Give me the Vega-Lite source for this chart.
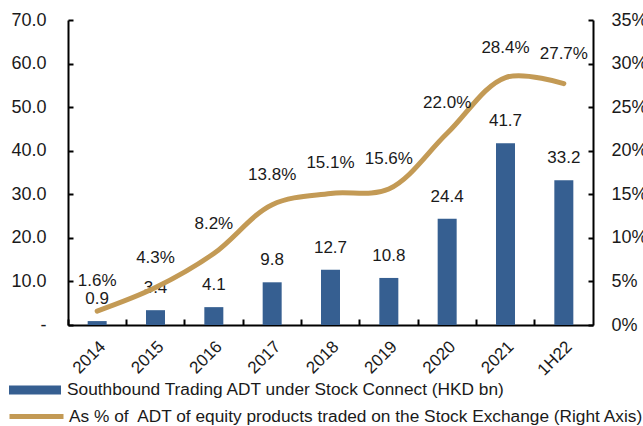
{
  "$schema": "https://vega.github.io/schema/vega-lite/v6.json",
  "width": 525,
  "height": 305,
  "autosize": {"type": "none"},
  "padding": {"left": 68, "top": 20, "right": 50, "bottom": 101},
  "config": {
    "view": {"stroke": null},
    "font": "Liberation Sans",
    "axis": {"grid": false, "domainColor": "#000000", "domainWidth": 2, "tickColor": "#000000", "tickWidth": 2, "labelColor": "#1a1a1a", "labelFont": "Liberation Sans", "labelFontSize": 18, "title": null},
    "legend": {"padding": 0, "labelFont": "Liberation Sans", "labelFontSize": 17.3, "labelColor": "#1a1a1a", "title": null, "labelLimit": 700}
  },
  "data": {
    "values": [
      {"year": "2014", "adt": 0.9, "pct": 0.016},
      {"year": "2015", "adt": 3.4, "pct": 0.043},
      {"year": "2016", "adt": 4.1, "pct": 0.082},
      {"year": "2017", "adt": 9.8, "pct": 0.138},
      {"year": "2018", "adt": 12.7, "pct": 0.151},
      {"year": "2019", "adt": 10.8, "pct": 0.156},
      {"year": "2020", "adt": 24.4, "pct": 0.220},
      {"year": "2021", "adt": 41.7, "pct": 0.284},
      {"year": "1H22", "adt": 33.2, "pct": 0.277}
    ]
  },
  "encoding": {
    "x": {
      "field": "year", "type": "ordinal", "sort": null,
      "scale": {"paddingInner": 0, "paddingOuter": 0},
      "axis": {"labelAngle": -45, "bandPosition": 0, "tickSize": -6, "labelPadding": 19, "labelFontSize": 17}
    }
  },
  "layer": [
    {
      "layer": [
        {
          "mark": {"type": "bar", "size": 19, "color": "#365F91"},
          "encoding": {
            "y": {"field": "adt", "type": "quantitative", "scale": {"domain": [0, 70]},
              "axis": {"orient": "left", "values": [0, 10, 20, 30, 40, 50, 60, 70], "labelExpr": "datum.value == 0 ? '-\u00a0\u00a0' : format(datum.value, '.1f')", "tickSize": -5, "labelPadding": 27}},
            "color": {"datum": "Southbound Trading ADT under Stock Connect (HKD bn)", "scale": {"range": ["#365F91"]},
              "legend": {"orient": "none", "legendX": -59, "legendY": 344, "symbolType": "M-1,-0.17H1V0.17H-1Z", "symbolSize": 2704, "symbolStrokeWidth": 0, "labelOffset": 6}}
          }
        },
        {
          "mark": {"type": "text", "baseline": "middle", "dy": -22, "fontSize": 17, "color": "#1a1a1a"},
          "encoding": {
            "y": {"field": "adt", "type": "quantitative", "scale": {"domain": [0, 70]}},
            "text": {"field": "adt", "type": "quantitative", "format": ".1f"}
          }
        }
      ]
    },
    {
      "layer": [
        {
          "mark": {"type": "line", "interpolate": "catmull-rom", "strokeWidth": 5, "strokeCap": "round"},
          "encoding": {
            "y": {"field": "pct", "type": "quantitative", "scale": {"domain": [0, 0.35]},
              "axis": {"orient": "right", "values": [0, 0.05, 0.1, 0.15, 0.2, 0.25, 0.3, 0.35], "format": ".0%", "tickSize": -5, "labelPadding": 23}},
            "stroke": {"datum": "As % of\u00a0 ADT of equity products traded on the Stock Exchange (Right Axis)", "scale": {"range": ["#C39A55"]},
              "legend": {"orient": "none", "legendX": -61, "legendY": 367, "symbolType": "stroke", "symbolSize": 2916, "symbolStrokeWidth": 5, "labelOffset": 3}}
          }
        },
        {
          "mark": {"type": "text", "baseline": "middle", "dy": -30, "fontSize": 17, "color": "#1a1a1a"},
          "encoding": {
            "y": {"field": "pct", "type": "quantitative", "scale": {"domain": [0, 0.35]}},
            "text": {"field": "pct", "type": "quantitative", "format": ".1%"}
          }
        }
      ]
    }
  ],
  "resolve": {"scale": {"y": "independent", "color": "independent", "stroke": "independent"}}
}
